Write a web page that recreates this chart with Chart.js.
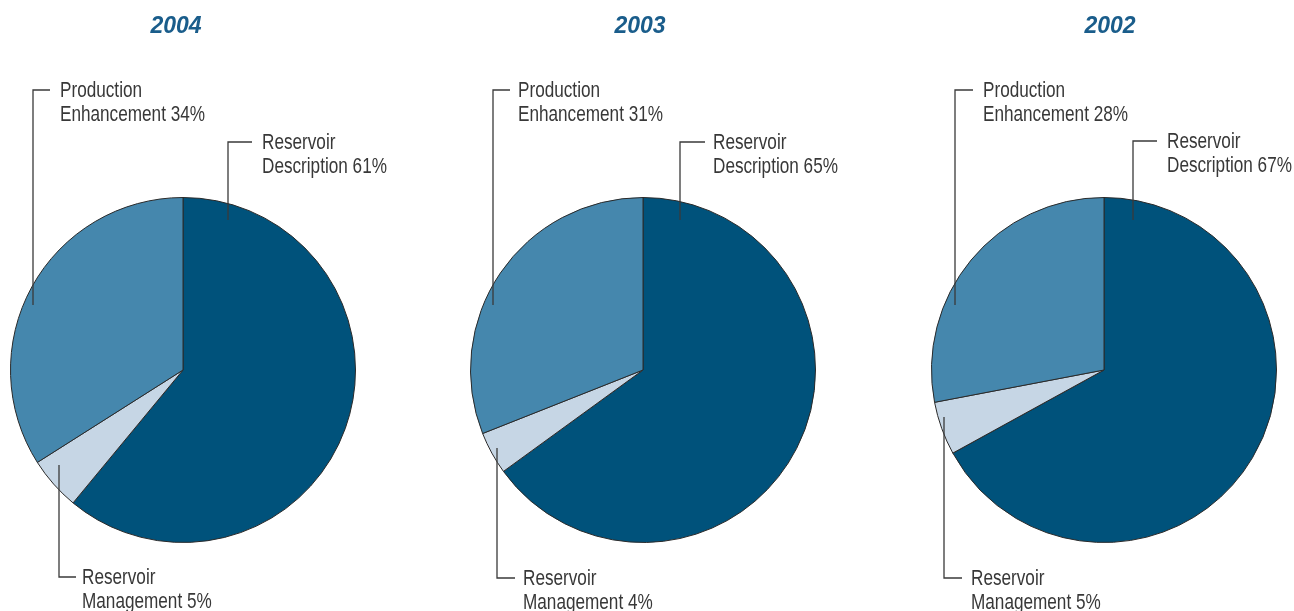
<!DOCTYPE html>
<html>
<head>
<meta charset="utf-8">
<script src="https://cdn.jsdelivr.net/npm/chart.js@4/dist/chart.umd.min.js"></script>
<style>
  html, body { margin: 0; padding: 0; background: #fff; }
  #wrap { position: relative; width: 1294px; height: 611px; }
  canvas { position: absolute; top: 0; }
</style>
</head>
<body>
<div id="wrap">
  <canvas id="pie2004" width="431" height="611" style="left:0px"></canvas>
  <canvas id="pie2003" width="431" height="611" style="left:431px"></canvas>
  <canvas id="pie2002" width="432" height="611" style="left:862px"></canvas>
</div>
<script>
// Revenue split by segment, one pie per year
const years = ['2004', '2003', '2002'];
const categories = ['Reservoir Description', 'Reservoir Management', 'Production Enhancement'];
const share2004 = [61, 5, 34];
const share2003 = [65, 4, 31];
const share2002 = [67, 5, 28];
const sliceColors = ['#00527b', '#c6d6e5', '#4587ad'];

// no condensed face installed, so labels are squeezed horizontally
const labelFont = '22px "Liberation Sans", Arial, sans-serif';
const labelSqueeze = 0.78;
const titleFont = 'italic bold 23px "Liberation Sans", Arial, sans-serif';

// leader layout per slice, offsets from the pie centre in px:
// corner = x of the vertical leader, tick = end of the short horizontal,
// text = left edge of label, cy = corner height, end = where the leader stops inside the slice
const layouts = {
  '2004': {
    titleDx: -7,
    pad: { left: 10, right: 75 },
    items: [
      { corner: 45, tick: 69, text: 79, cy: -228, end: -150 },
      { corner: -124, tick: -107, text: -101, cy: 207, end: 95 },
      { corner: -150, tick: -133, text: -123, cy: -280, end: -65 }
    ]
  },
  '2003': {
    titleDx: -3,
    pad: { left: 39, right: 46 },
    items: [
      { corner: 37, tick: 62, text: 70, cy: -228, end: -150 },
      { corner: -146, tick: -128, text: -120, cy: 208, end: 78 },
      { corner: -150, tick: -133, text: -125, cy: -280, end: -65 }
    ]
  },
  '2002': {
    titleDx: 6,
    pad: { left: 69, right: 17 },
    items: [
      { corner: 29, tick: 53, text: 63, cy: -229, end: -150 },
      { corner: -160, tick: -142, text: -133, cy: 208, end: 47 },
      { corner: -149, tick: -131, text: -121, cy: -280, end: -65 }
    ]
  }
};

function squeezedText(ctx, str, x, y) {
  ctx.save();
  ctx.translate(x, y);
  ctx.scale(labelSqueeze, 1);
  ctx.fillText(str, 0, 0);
  ctx.restore();
}

// draws the year heading and the bracketed leader labels
const leaderLabels = {
  id: 'leaderLabels',
  afterDraw(chart, args, opts) {
    const ctx = chart.ctx;
    const arc = chart.getDatasetMeta(0).data[0];
    const cx = arc.x, cy = arc.y;
    const values = chart.data.datasets[0].data;
    const lay = layouts[opts.year];

    ctx.save();
    ctx.fillStyle = '#1a5d8b';
    ctx.font = titleFont;
    ctx.textAlign = 'center';
    ctx.textBaseline = 'alphabetic';
    ctx.fillText(opts.year, cx + lay.titleDx, 33);

    ctx.strokeStyle = '#3a3a3a';
    ctx.lineWidth = 1.3;
    ctx.fillStyle = '#383838';
    ctx.font = labelFont;
    ctx.textAlign = 'left';
    lay.items.forEach((it, i) => {
      ctx.beginPath();
      ctx.moveTo(cx + it.corner, cy + it.end);
      ctx.lineTo(cx + it.corner, cy + it.cy);
      ctx.lineTo(cx + it.tick, cy + it.cy);
      ctx.stroke();
      const words = chart.data.labels[i].split(' ');
      squeezedText(ctx, words[0], cx + it.text, cy + it.cy + 7);
      squeezedText(ctx, words[1] + ' ' + values[i] + '%', cx + it.text, cy + it.cy + 31);
    });
    ctx.restore();
  }
};

function makePie(id, year, values) {
  const lay = layouts[year];
  return new Chart(document.getElementById(id), {
    type: 'pie',
    data: {
      labels: categories,
      datasets: [{
        data: values,
        backgroundColor: sliceColors,
        borderColor: '#2a2a2a',
        borderWidth: 1
      }]
    },
    options: {
      responsive: false,
      animation: false,
      layout: { padding: { left: lay.pad.left, right: lay.pad.right, top: 197, bottom: 68 } },
      plugins: {
        legend: { display: false },
        tooltip: { enabled: false },
        leaderLabels: { year: year }
      }
    },
    plugins: [leaderLabels]
  });
}

makePie('pie2004', years[0], share2004);
makePie('pie2003', years[1], share2003);
makePie('pie2002', years[2], share2002);
</script>
</body>
</html>
